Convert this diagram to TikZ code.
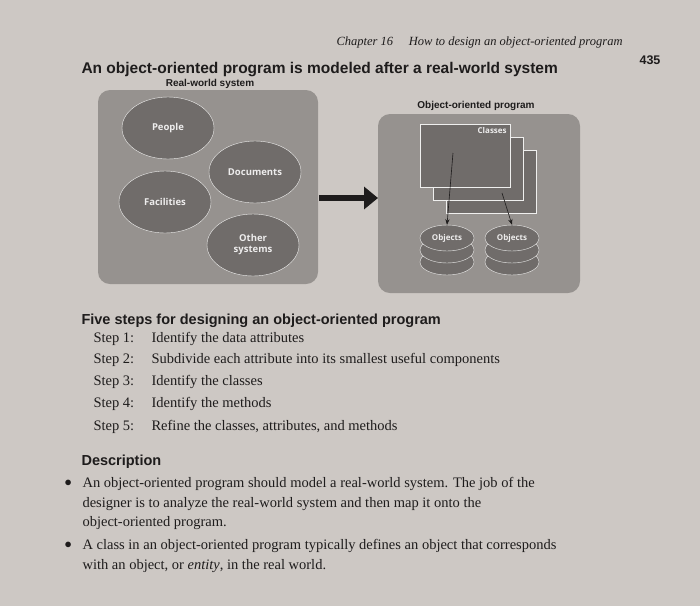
\documentclass[tikz,border=0pt]{standalone}
\usepackage{fontspec}
\setmainfont{Liberation Serif}
\newfontfamily\headsf{Liberation Sans}
\newfontfamily\figsf{Open Sans}
\usepackage{xcolor}
\definecolor{pagebg}{RGB}{205, 200, 196}
\definecolor{panelgray}{RGB}{150, 146, 143}
\definecolor{blobgray}{RGB}{112, 108, 106}
\definecolor{inkdark}{RGB}{30, 28, 28}
\usetikzlibrary{arrows.meta, positioning, shapes.geometric}

\begin{document}
\begin{tikzpicture}[
        x=1pt, y=-1pt,
        panel/.style={fill=panelgray, rounded corners=12pt},
        blob/.style={
            ellipse,
            draw=white!85!panelgray,
            fill=blobgray,
            minimum width=92pt,
            minimum height=62pt,
            align=center,
            text=white!88!blobgray,
            font=\figsf\bfseries\fontsize{9.5}{11}\selectfont
        },
        classbox/.style={rectangle, draw=white!85!panelgray, fill=blobgray, minimum width=90pt, minimum height=63pt},
        disk/.style={ellipse, draw=white!85!panelgray, fill=blobgray, minimum width=54pt, minimum height=26pt},
        paneltitle/.style={font=\headsf\bfseries\fontsize{10}{12}\selectfont, text=inkdark},
        sectitle/.style={anchor=west, font=\headsf\bfseries\fontsize{14.5}{17}\selectfont, text=inkdark},
        steptext/.style={anchor=base west, font=\fontsize{14.5}{20}\selectfont, text=inkdark},
        desctext/.style={anchor=north west, align=left, font=\fontsize{14.5}{19.5}\selectfont, text=inkdark},
        arrow/.style={-{Stealth}, thick, color=inkdark}
    ]
        \fill[pagebg] (0,0) rectangle (700,606);
        \useasboundingbox (0,0) rectangle (700,606);

        % page header
        \node[anchor=west, font=\itshape\fontsize{12.5}{14}\selectfont, text=inkdark] (chap) at (333,42) {Chapter 16\quad\ How to design an object-oriented program};
        \node[font=\headsf\bfseries\fontsize{12.5}{14}\selectfont, text=inkdark] (page) at (650,60) {435};
        \node[anchor=west, font=\headsf\bfseries\fontsize{15.5}{18}\selectfont, text=inkdark] (title) at (78,70) {An object-oriented program is modeled after a real-world system};

        % real-world side
        \fill[panel] (98,90) rectangle (318,284);
        \node[paneltitle] (rwlbl) at (210,84) {Real-world system};
        \node[blob] (people) at (168,128) {People};
        \node[blob] (docs) at (255,172) {Documents};
        \node[blob] (facil) at (165,202) {Facilities};
        \node[blob] (other) at (253,245) {Other\\systems};

        % object-oriented side
        \fill[panel] (378,114) rectangle (580,293);
        \node[paneltitle] (oolbl) at (476,106) {Object-oriented program};
        \node[classbox] (cls3) at (491,182) {};
        \node[classbox] (cls2) at (478,169) {};
        \node[classbox] (cls1) at (465,156) {};
        \node[anchor=north east, font=\figsf\bfseries\fontsize{8}{9}\selectfont, text=white!88!blobgray] (clstxt) at (cls1.north east) {Classes};
        \coordinate (cls1out) at (453,153);
        \coordinate (cls3out) at (502,193);

        \foreach \cx/\nm in {447/objA, 512/objB} {
            \node[disk] at (\cx,262) {};
            \node[disk] at (\cx,250) {};
            \node[disk, font=\figsf\bfseries\fontsize{8}{9}\selectfont, text=white!88!blobgray] (\nm) at (\cx,238) {Objects};
        }

        \coordinate (mapstart) at (319,198);
        \coordinate (mapend) at (378,198);
        \draw[-{Triangle[length=14pt,width=22pt]}, line width=6pt, color=inkdark] (mapstart) -- (mapend);
        \draw[arrow, semithick] (cls1out) -- (objA.north);
        \draw[arrow, semithick] (cls3out) -- (objB.north);

        % steps
        \node[sectitle] (steps) at (78,321) {Five steps for designing an object-oriented program};
        \foreach \n/\yy/\txt in {1/342/Identify the data attributes,
                                 2/363/Subdivide each attribute into its smallest useful components,
                                 3/385/Identify the classes,
                                 4/407/Identify the methods,
                                 5/430/{Refine the classes, attributes, and methods}} {
            \node[steptext] (s\n) at (90,\yy) {Step \n:};
            \node[steptext] (t\n) at (148,\yy) {\txt};
        }

        % description
        \node[sectitle] (desc) at (78,462) {Description};
        \node[desctext] (b1) at (61,477) {$\bullet$};
        \node[desctext] (d1) at (79,474)
            {An object-oriented program should model a real-world system. The job of the\\
             designer is to analyze the real-world system and then map it onto the\\
             object-oriented program.};
        \node[desctext] (b2) at (61,539) {$\bullet$};
        \node[desctext] (d2) at (79,536)
            {A class in an object-oriented program typically defines an object that corresponds\\
             with an object, or \textit{entity}, in the real world.};
    \end{tikzpicture}
\end{document}
